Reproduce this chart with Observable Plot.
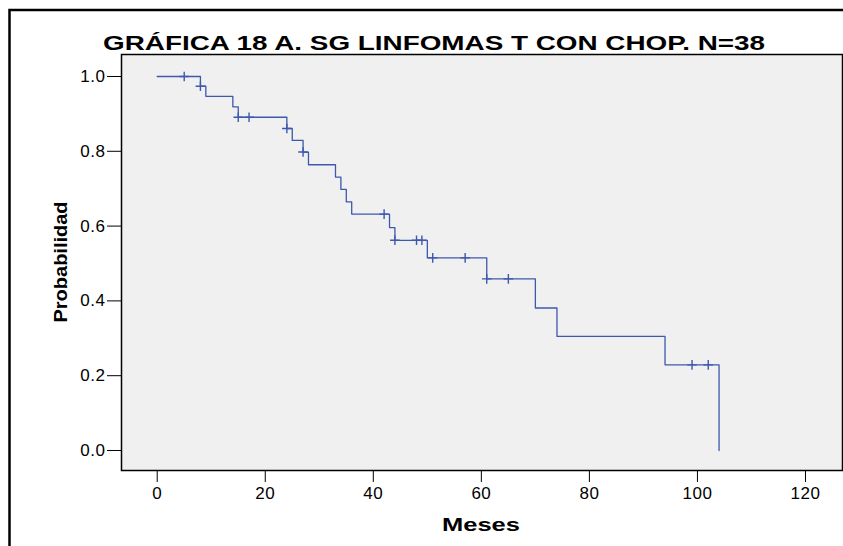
<!DOCTYPE html>
<html><head><meta charset="utf-8">
<script src="https://cdn.jsdelivr.net/npm/d3@7"></script>
<script src="https://cdn.jsdelivr.net/npm/@observablehq/plot@0.6"></script>
<style>body{margin:0;background:#fff;overflow:hidden} svg{display:block}</style>
</head><body><div id="chart"></div>
<script>
// Kaplan-Meier step points (months, survival probability)
const times = [0, 8, 9, 14, 15, 24, 25, 27, 28, 33, 34, 35, 36, 43, 44, 50, 61, 70, 74, 94, 104];
const survival = [1.0, 0.974, 0.947, 0.919, 0.891, 0.861, 0.829, 0.798, 0.764, 0.731, 0.698, 0.665, 0.632, 0.596, 0.562, 0.515, 0.459, 0.381, 0.305, 0.229, 0.0];
// Censored observations
const censorTimes = [5, 8, 15, 17, 24, 27, 42, 44, 48, 49, 51, 57, 61, 65, 99, 102];
const censorSurvival = [1.0, 0.974, 0.891, 0.891, 0.861, 0.798, 0.632, 0.562, 0.562, 0.562, 0.515, 0.515, 0.459, 0.459, 0.229, 0.229];
const xTicks = [0, 20, 40, 60, 80, 100, 120];
const yTicks = [0, 0.2, 0.4, 0.6, 0.8, 1.0];
const titleText = "GRÁFICA 18 A. SG LINFOMAS T CON CHOP. N=38";
const xLabel = "Meses";
const yLabel = "Probabilidad";

const steps = times.map((t, i) => ({t, s: survival[i]}));
const censors = censorTimes.map((t, i) => ({t, s: censorSurvival[i]}));
const blue = "#3d58ad";

const chart = Plot.plot({
  width: 843, height: 546,
  marginLeft: 121, marginRight: 1, marginTop: 54, marginBottom: 76,
  style: {fontFamily: "'Liberation Sans', Arial, sans-serif", fontSize: "17px", color: "#000", background: "transparent", overflow: "visible"},
  x: {domain: [-6.61, 126.85], ticks: xTicks, tickFormat: d => String(d), tickSize: 12, tickPadding: 4, label: null},
  y: {domain: [-0.0535, 1.0588], ticks: yTicks, tickFormat: d => d.toFixed(1), tickSize: 14, tickPadding: 2, label: null},
  marks: [
    Plot.frame({fill: "#f0f0f0"}),
    Plot.line(steps, {x: "t", y: "s", curve: "step-after", stroke: blue, strokeWidth: 1.3}),
    Plot.dot(censors, {x: "t", y: "s", symbol: "plus", r: 3.2, stroke: blue, strokeWidth: 1.4}),
    Plot.frame({stroke: "#000", strokeWidth: 1.5})
  ]
});
document.getElementById("chart").appendChild(chart);

const svg = d3.select(chart);
svg.selectAll("text").attr("font-size", 17).style("font-size", "17px").style("letter-spacing", "0.5px");
svg.append("rect").attr("x", 9.5).attr("y", 10).attr("width", 900).attr("height", 600)
  .attr("fill", "none").attr("stroke", "#000").attr("stroke-width", 2.5);
svg.append("text").text(titleText)
  .attr("x", 434).attr("y", 50).attr("text-anchor", "middle")
  .attr("font-family", "'Liberation Sans Narrow', 'Liberation Sans', Arial, sans-serif")
  .attr("font-weight", "bold").attr("font-size", 21).attr("fill", "#000")
  .attr("textLength", 662).attr("lengthAdjust", "spacingAndGlyphs");
svg.append("text").text(xLabel)
  .attr("x", 481).attr("y", 531).attr("text-anchor", "middle")
  .attr("font-family", "'Liberation Sans', Arial, sans-serif")
  .attr("font-weight", "bold").attr("font-size", 18).attr("fill", "#000")
  .attr("textLength", 78).attr("lengthAdjust", "spacingAndGlyphs");
svg.append("text").text(yLabel)
  .attr("transform", "translate(67,262) rotate(-90)").attr("text-anchor", "middle")
  .attr("font-family", "'Liberation Sans Narrow', 'Liberation Sans', Arial, sans-serif")
  .attr("font-weight", "bold").attr("font-size", 19).attr("fill", "#000")
  .attr("textLength", 121).attr("lengthAdjust", "spacingAndGlyphs");
</script>
</body></html>
